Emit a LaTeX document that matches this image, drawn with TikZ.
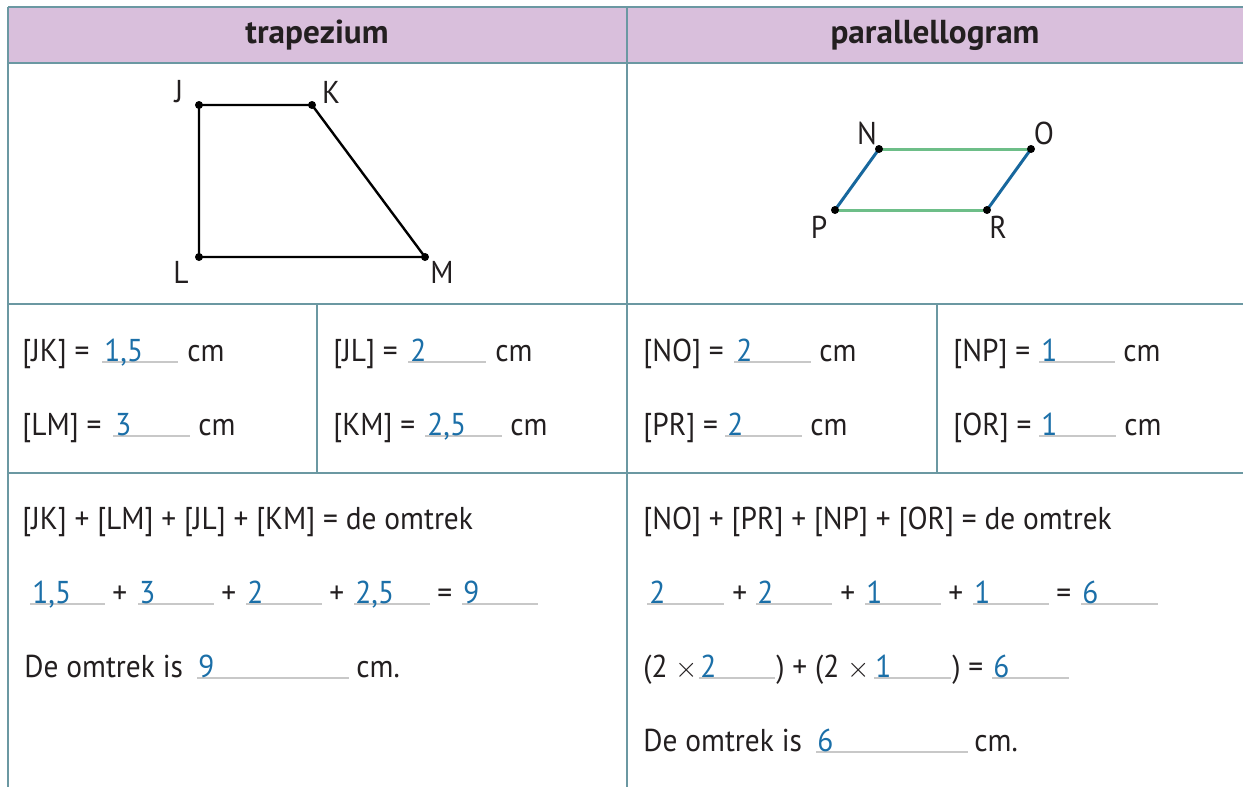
\documentclass[tikz,border=0pt]{standalone}
\usepackage{fontspec}
\setmainfont{PT Sans}
\newfontfamily\bodyfam[FakeStretch=0.93]{PT Sans}
\definecolor{gridcol}{HTML}{6B98A2}
\definecolor{headfill}{HTML}{D9BFDC}
\definecolor{ink}{HTML}{231F20}
\definecolor{ansblue}{HTML}{1B6FA8}
\definecolor{ulgray}{HTML}{C8C8C8}
\definecolor{pgreen}{HTML}{6DBE88}
\definecolor{pblue}{HTML}{17679D}
\newcommand{\bodyfont}{\bodyfam\fontsize{15.8}{18}\selectfont}
\newcommand{\headfont}{\fontsize{16.6}{19}\selectfont\bfseries}
\newcommand{\tms}{$\times$}
\begin{document}
\begin{tikzpicture}[x=0.5pt,y=-0.5pt,
  txt/.style={anchor=base west, inner sep=0pt, text=ink, font=\bodyfont},
  ans/.style={txt, text=ansblue},
  lab/.style={anchor=center, inner sep=0pt, text=ink, font=\bodyfont},
  head/.style={anchor=center, inner sep=0pt, text=ink, font=\headfont},
  blank/.style={draw=ulgray, line width=1pt},
  gridline/.style={draw=gridcol, line width=1pt},
  dot/.style={circle, fill=black, inner sep=0pt, minimum size=4pt},
  trap/.style={draw=black, line width=1.2pt},
  pgr/.style={draw=pgreen, line width=1.5pt},
  pbl/.style={draw=pblue, line width=1.5pt}]
\useasboundingbox (0,0) rectangle (1243,787);
% header
\fill[headfill] (8,7) rectangle (1243,63);
\node[head] (h1) at (317,35) {trapezium};
\node[head] (h2) at (935,35) {parallellogram};
% grid
\draw[gridline] (8,7) -- (1243,7);
\draw[gridline] (8,63) -- (1243,63);
\draw[gridline] (8,304) -- (1243,304);
\draw[gridline] (8,473) -- (1243,473);
\draw[gridline] (8,7) -- (8,787);
\draw[gridline] (627,7) -- (627,787);
\draw[gridline] (317,304) -- (317,473);
\draw[gridline] (937,304) -- (937,473);
% trapezium
\coordinate (J) at (199,105);
\coordinate (K) at (312,105);
\coordinate (L) at (199,257);
\coordinate (M) at (425,257);
\draw[trap] (J) -- (K) -- (M) -- (L) -- cycle;
\foreach \p in {J,K,L,M} \node[dot] (d\p) at (\p) {};
\node[lab] (lJ) at (179,92) {J};
\node[lab] (lK) at (331,92) {K};
\node[lab] (lL) at (181,272) {L};
\node[lab] (lM) at (442,272) {M};
% parallelogram
\coordinate (N) at (879,149);
\coordinate (O) at (1031,149);
\coordinate (P) at (835,210);
\coordinate (R) at (987,210);
\draw[pgr] (N) -- (O);
\draw[pgr] (P) -- (R);
\draw[pbl] (N) -- (P);
\draw[pbl] (O) -- (R);
\foreach \p in {N,O,P,R} \node[dot] (d\p) at (\p) {};
\node[lab] (lN) at (867,133) {N};
\node[lab] (lO) at (1044,133) {O};
\node[lab] (lP) at (819,227) {P};
\node[lab] (lR) at (998,227) {R};
% row 2 underlines
\draw[blank] (102,362) -- (178,362);
\draw[blank] (408,362) -- (486,362);
\draw[blank] (734,362) -- (811,362);
\draw[blank] (1039,362) -- (1115,362);
\draw[blank] (113,436) -- (190,436);
\draw[blank] (425,436) -- (502,436);
\draw[blank] (725,436) -- (802,436);
\draw[blank] (1039,436) -- (1116,436);
% row 2 texts
\node[txt] (a1) at (22,361) {[JK] =};
\node[ans] (a2) at (104,361) {1,5};
\node[txt] (a3) at (187,361) {cm};
\node[txt] (b1) at (333,361) {[JL] =};
\node[ans] (b2) at (410,361) {2};
\node[txt] (b3) at (495,361) {cm};
\node[txt] (c1) at (643,361) {[NO] =};
\node[ans] (c2) at (736,361) {2};
\node[txt] (c3) at (819,361) {cm};
\node[txt] (e1) at (953,361) {[NP] =};
\node[ans] (e2) at (1041,361) {1};
\node[txt] (e3) at (1123,361) {cm};
\node[txt] (f1) at (22,435) {[LM] =};
\node[ans] (f2) at (115,435) {3};
\node[txt] (f3) at (198,435) {cm};
\node[txt] (g1) at (333,435) {[KM] =};
\node[ans] (g2) at (427,435) {2,5};
\node[txt] (g3) at (510,435) {cm};
\node[txt] (i1) at (643,435) {[PR] =};
\node[ans] (i2) at (727,435) {2};
\node[txt] (i3) at (810,435) {cm};
\node[txt] (k1) at (953,435) {[OR] =};
\node[ans] (k2) at (1041,435) {1};
\node[txt] (k3) at (1124,435) {cm};
% row 3 left
\node[txt] (m1) at (22,529) {[JK] + [LM] + [JL] + [KM] = de omtrek};
\draw[blank] (30,604) -- (105,604);
\draw[blank] (138,604) -- (214,604);
\draw[blank] (246,604) -- (322,604);
\draw[blank] (354,604) -- (430,604);
\draw[blank] (462,604) -- (538,604);
\node[ans] (m2) at (32,603) {1,5};
\node[txt] (m3) at (112,603) {+};
\node[ans] (m4) at (139,603) {3};
\node[txt] (m5) at (221,603) {+};
\node[ans] (m6) at (247,603) {2};
\node[txt] (m7) at (329,603) {+};
\node[ans] (m8) at (355,603) {2,5};
\node[txt] (m9) at (437,603) {=};
\node[ans] (m10) at (463,603) {9};
\draw[blank] (197,678) -- (349,678);
\node[txt] (n1) at (24,677) {De omtrek is};
\node[ans] (n2) at (198,677) {9};
\node[txt] (n3) at (356,677) {cm.};
% row 3 right
\node[txt] (p1) at (643,529) {[NO] + [PR] + [NP] + [OR] = de omtrek};
\draw[blank] (647,604) -- (724,604);
\draw[blank] (756,604) -- (832,604);
\draw[blank] (865,604) -- (941,604);
\draw[blank] (973,604) -- (1049,604);
\draw[blank] (1081,604) -- (1158,604);
\node[ans] (p2) at (649,603) {2};
\node[txt] (p3) at (732,603) {+};
\node[ans] (p4) at (757,603) {2};
\node[txt] (p5) at (840,603) {+};
\node[ans] (p6) at (866,603) {1};
\node[txt] (p7) at (948,603) {+};
\node[ans] (p8) at (974,603) {1};
\node[txt] (p9) at (1056,603) {=};
\node[ans] (p10) at (1082,603) {6};
\draw[blank] (699,678) -- (775,678);
\draw[blank] (874,678) -- (951,678);
\draw[blank] (992,678) -- (1069,678);
\node[txt] (q1) at (643,677) {(2 \tms};
\node[ans] (q2) at (700,677) {2};
\node[txt] (q3) at (776,677) {) + (2 \tms};
\node[ans] (q4) at (875,677) {1};
\node[txt] (q5) at (952,677) {) =};
\node[ans] (q6) at (993,677) {6};
\draw[blank] (816,752) -- (968,752);
\node[txt] (r1) at (643,751) {De omtrek is};
\node[ans] (r2) at (817,751) {6};
\node[txt] (r3) at (974,751) {cm.};
\end{tikzpicture}
\end{document}
